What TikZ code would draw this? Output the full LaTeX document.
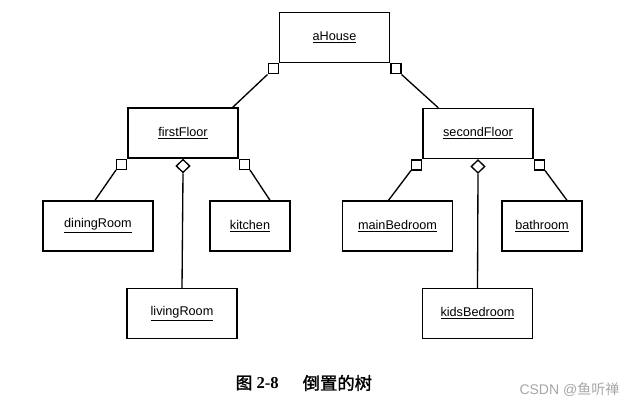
\documentclass[tikz,border=0pt]{standalone}
\usepackage{fontspec}
\setmainfont{Liberation Serif}
\setsansfont{Liberation Sans}
\newfontfamily\cjk{Noto Sans CJK SC}
\newfontfamily\cjkbold[FakeBold=1.5]{Noto Sans CJK SC}
\usetikzlibrary{shapes.geometric,calc}

\begin{document}
\begin{tikzpicture}[
    x=0.75pt, y=-0.75pt,
    % Estilos de las cajas
    objbox/.style={draw, line width=1pt, minimum width=82.5pt, minimum height=37.5pt,
                   inner sep=0pt, font=\sffamily\fontsize{9.5}{10}\selectfont},
    smallbox/.style={objbox, minimum width=60pt},
    sqbox/.style={draw, line width=1pt, minimum size=7.5pt, inner sep=0pt, fill=white},
    diabox/.style={draw, line width=1pt, diamond, minimum width=10.5pt, minimum height=10pt,
                   inner sep=0pt, aspect=1, fill=white},
    link/.style={line width=1pt}
]
\useasboundingbox (0,0) rectangle (638,406);

% --- NIVEL 0 ---
\node[objbox] (house) at (334.5, 37.5) {\underline{aHouse}};
\node[sqbox, anchor=north east] (houseL) at (house.south west) {};
\node[sqbox, anchor=north west] (houseR) at (house.south east) {};

% --- NIVEL 1 ---
\node[objbox] (first) at (183, 133) {\underline{firstFloor}};
\node[sqbox, anchor=north east] (firstL) at (first.south west) {};
\node[sqbox, anchor=north west] (firstR) at (first.south east) {};
\node[diabox, anchor=north] (firstD) at (first.south) {};

\node[objbox] (second) at (478, 133.5) {\underline{secondFloor}};
\node[sqbox, anchor=north east] (secondL) at (second.south west) {};
\node[sqbox, anchor=north west] (secondR) at (second.south east) {};
\node[diabox, anchor=north] (secondD) at (second.south) {};

% --- NIVEL 2 ---
\node[objbox] (dining) at (98, 226) {\underline{diningRoom}};
\node[smallbox] (kitchen) at (250, 226) {\underline{kitchen}};
\node[objbox] (living) at (182, 313.5) {\underline{livingRoom}};

\node[objbox] (master) at (397.5, 226) {\underline{mainBedroom}};
\node[smallbox] (bath) at (542, 226) {\underline{bathroom}};
\node[objbox] (kids) at (477.5, 313.5) {\underline{kidsBedroom}};

% --- CONEXIONES ---
\draw[link] (houseL.south west) -- ($(first.north east)+(-6,0)$);
\draw[link] (houseR.south east) -- ($(second.north west)+(16,0)$);
\draw[link] (firstL.south west) -- ($(dining.north)+(-3,0)$);
\draw[link] (firstR.south east) -- ($(kitchen.north)+(20,0)$);
\draw[link] (firstD.south) -- (living.north);
\draw[link] (secondL.south west) -- ($(master.north)+(-9,0)$);
\draw[link] (secondR.south east) -- ($(bath.north)+(25,0)$);
\draw[link] (secondD.south) -- (kids.north);

% --- PIE ---
\node[anchor=west, font=\fontsize{12.5}{14}\selectfont] (fignum) at (231, 383) {{\cjkbold 图} \textbf{2-8}};
\node[anchor=west, font=\fontsize{13}{14}\selectfont\cjkbold] (figtitle) at (298, 383) {倒置的树};
\node[anchor=east, text=gray!70, font=\sffamily\fontsize{10.5}{12}\selectfont] (mark) at (624, 390) {CSDN @{\cjk 鱼听禅}};

\end{tikzpicture}
\end{document}
